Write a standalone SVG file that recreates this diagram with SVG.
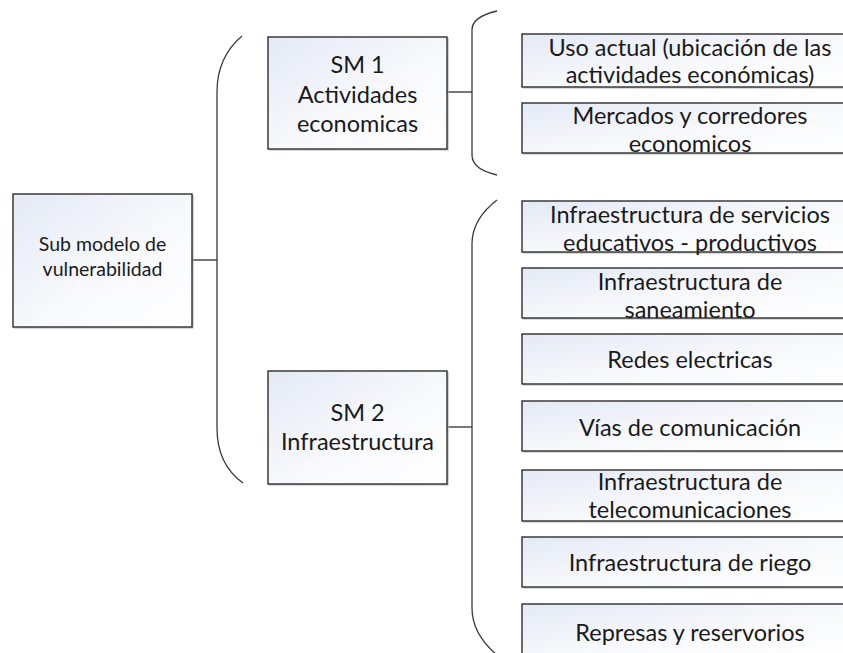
<svg xmlns="http://www.w3.org/2000/svg" width="843" height="653" viewBox="0 0 843 653">
  <defs>
    <linearGradient id="boxFill" x1="0" y1="0" x2="1" y2="1">
      <stop offset="0" stop-color="#e4e9f5"/>
      <stop offset="0.55" stop-color="#f8f9fc"/>
      <stop offset="1" stop-color="#ffffff"/>
    </linearGradient>
  </defs>
  <style>
    .box { fill: url(#boxFill); stroke: #1e1e1e; stroke-width: 1.3; }
    .shadow { fill: none; stroke: #b4b4b4; stroke-width: 1.2; }
    .line { fill: none; stroke: #1e1e1e; stroke-width: 1.2; }
    .brace { fill: none; stroke: #3a3a3a; stroke-width: 1.3; }
    text { font-family: Lato, "Liberation Sans", sans-serif; fill: #1a1a1a; text-anchor: middle; dominant-baseline: central; }
    .big { font-size: 23.5px; }
    .small { font-size: 19.5px; }
  </style>

  <!-- connectors and braces -->
  <g id="connectors">
    <line class="line" x1="192" y1="260" x2="217" y2="260"/>
    <path class="brace" d="M242,36 C229,47 217,64 217,92 L217,428 C217,456 229,473 243,483"/>
    <line class="line" x1="447" y1="92" x2="472" y2="92"/>
    <path class="brace" d="M497,11 C484,14 472,20 472,30 L472,155 C472,166 484,172 497,175"/>
    <line class="line" x1="447" y1="427" x2="472" y2="427"/>
    <path class="brace" d="M497,200 C484,210 472,225 472,244 L472,608 C472,628 484,644 497,655"/>
  </g>

  <!-- root -->
  <g id="root">
    <path class="shadow" d="M14,328 H193 V195"/>
    <rect class="box" x="13" y="194" width="179" height="133"/>
    <text class="small" x="102.5" y="243">Sub modelo de</text>
    <text class="small" x="102.5" y="268">vulnerabilidad</text>
  </g>

  <!-- sub models -->
  <g id="sm1">
    <path class="shadow" d="M269,150 H448 V38"/>
    <rect class="box" x="268" y="37" width="179" height="112"/>
    <text class="big" x="357.5" y="64">SM 1</text>
    <text class="big" x="357.5" y="94">Actividades</text>
    <text class="big" x="357.5" y="123">economicas</text>
  </g>
  <g id="sm2">
    <path class="shadow" d="M269,485 H448 V372"/>
    <rect class="box" x="268" y="371" width="179" height="113"/>
    <text class="big" x="357.5" y="412">SM 2</text>
    <text class="big" x="357.5" y="441">Infraestructura</text>
  </g>

  <!-- leaves of SM 1 -->
  <g id="uso-actual">
    <path class="shadow" d="M523,88 H850"/>
    <rect class="box" x="522" y="34" width="330" height="53"/>
    <text class="big" x="690" y="47">Uso actual (ubicación de las</text>
    <text class="big" x="690" y="74">actividades económicas)</text>
  </g>
  <g id="mercados">
    <path class="shadow" d="M523,154 H850"/>
    <rect class="box" x="522" y="103" width="330" height="50"/>
    <text class="big" x="690" y="115">Mercados y corredores</text>
    <text class="big" x="690" y="143">economicos</text>
  </g>

  <!-- leaves of SM 2 -->
  <g id="servicios">
    <path class="shadow" d="M523,253 H850"/>
    <rect class="box" x="522" y="201" width="330" height="51"/>
    <text class="big" x="690" y="214">Infraestructura de servicios</text>
    <text class="big" x="690" y="242">educativos - productivos</text>
  </g>
  <g id="saneamiento">
    <path class="shadow" d="M523,319 H850"/>
    <rect class="box" x="522" y="268" width="330" height="50"/>
    <text class="big" x="690" y="281">Infraestructura de</text>
    <text class="big" x="690" y="309">saneamiento</text>
  </g>
  <g id="redes">
    <path class="shadow" d="M523,385 H850"/>
    <rect class="box" x="522" y="334" width="330" height="50"/>
    <text class="big" x="690" y="359">Redes electricas</text>
  </g>
  <g id="vias">
    <path class="shadow" d="M523,452 H850"/>
    <rect class="box" x="522" y="401" width="330" height="50"/>
    <text class="big" x="690" y="427">Vías de comunicación</text>
  </g>
  <g id="telecom">
    <path class="shadow" d="M523,522 H850"/>
    <rect class="box" x="522" y="470" width="330" height="51"/>
    <text class="big" x="690" y="481">Infraestructura de</text>
    <text class="big" x="690" y="509">telecomunicaciones</text>
  </g>
  <g id="riego">
    <path class="shadow" d="M523,588 H850"/>
    <rect class="box" x="522" y="537" width="330" height="50"/>
    <text class="big" x="690" y="562">Infraestructura de riego</text>
  </g>
  <g id="represas">
    <rect class="box" x="522" y="604" width="330" height="52"/>
    <text class="big" x="690" y="632">Represas y reservorios</text>
  </g>
</svg>
